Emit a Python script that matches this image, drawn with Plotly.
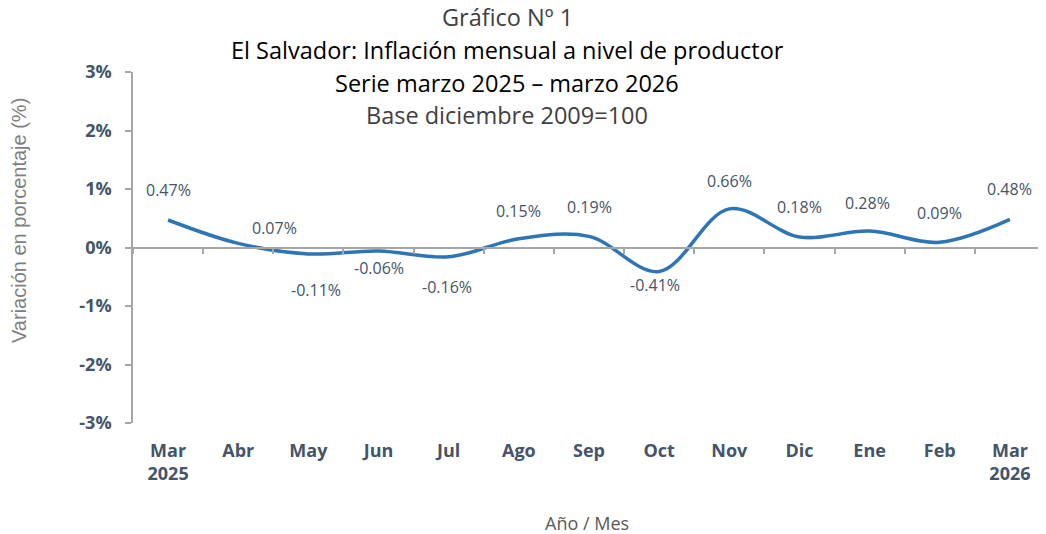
import plotly.graph_objects as go

months = ["Mar<br>2025", "Abr", "May", "Jun", "Jul", "Ago", "Sep", "Oct",
          "Nov", "Dic", "Ene", "Feb", "Mar<br>2026"]
inflation = [0.47, 0.07, -0.11, -0.06, -0.16, 0.15, 0.19, -0.41,
             0.66, 0.18, 0.28, 0.09, 0.48]
label_text = ["0.47%", "0.07%", "-0.11%", "-0.06%", "-0.16%", "0.15%", "0.19%",
              "-0.41%", "0.66%", "0.18%", "0.28%", "0.09%", "0.48%"]
# label offsets (pixels) relative to the point
label_dy = [30, 15, -36, -17, -30, 28, 29, -14, 28, 30, 28, 29, 30]
label_dx = [0, 36, 8, 0, -2, 0, 0, -4, 0, 0, -2, 0, 0]

y_ticks = [-3, -2, -1, 0, 1, 2, 3]
y_ticktext = ["-3%", "-2%", "-1%", "0%", "1%", "2%", "3%"]

FONT = "Open Sans"
SLATE = "#44546A"
AXIS = "#A6A6A6"

# page has an 8px body margin: figure occupies (8..1046, 8..534) of the window
OFF = 8
W, H = 1046 - OFF, 534 - OFF
# plot area in window pixels: x 133..1045, y 72..423
L, T = 133 - OFF, 72 - OFF
R = W - (1045 - OFF)
B = H - (423 - OFF)
pw, ph = W - L - R, H - T - B


def px_x(x):
    return (x - OFF - L) / pw


def px_y(y):
    return (H - B - (y - OFF)) / ph


fig = go.Figure()
fig.add_trace(go.Scatter(
    x=months, y=inflation, mode="lines",
    line=dict(color="#2E75B6", width=3.5, shape="spline", smoothing=1.0),
    hoverinfo="skip", showlegend=False, cliponaxis=False,
))
# invisible trace to register the zero-line axis
fig.add_trace(go.Scatter(
    x=months, y=inflation, mode="lines", xaxis="x2",
    line=dict(width=0), opacity=0, hoverinfo="skip", showlegend=False,
))

for m, v, t, dy, dx in zip(months, inflation, label_text, label_dy, label_dx):
    fig.add_annotation(x=m, y=v, xref="x", yref="y", text=t, showarrow=False,
                       yshift=dy, xshift=dx,
                       font=dict(family=FONT, size=16, color=SLATE))

title_lines = [
    ("Gráfico Nº 1", "#404040", 17),
    ("El Salvador: Inflación mensual a nivel de productor", "#000000", 50),
    ("Serie marzo 2025 – marzo 2026", "#000000", 83),
    ("Base diciembre 2009=100", "#404040", 115),
]
for text, col, ypx in title_lines:
    fig.add_annotation(x=px_x(507), y=px_y(ypx), xref="paper", yref="paper",
                       text=text, showarrow=False, xanchor="center",
                       yanchor="middle",
                       font=dict(family=FONT, size=23.5, color=col))

fig.add_annotation(x=px_x(19), y=px_y(221), xref="paper", yref="paper",
                   text="Variación en porcentaje (%)", textangle=-90,
                   showarrow=False, xanchor="center", yanchor="middle",
                   font=dict(family="Liberation Sans", size=20, color="#7F7F7F"))
fig.add_annotation(x=px_x(587), y=px_y(523), xref="paper",
                   yref="paper", text="Año / Mes", showarrow=False,
                   xanchor="center", yanchor="middle",
                   font=dict(family=FONT, size=18, color="#595959"))

fig.update_layout(
    width=W, height=H,
    margin=dict(l=L, r=R, t=T, b=B, pad=0, autoexpand=False),
    paper_bgcolor="white", plot_bgcolor="white",
    showlegend=False,
    xaxis=dict(
        type="category", categoryorder="array", categoryarray=months,
        range=[-0.5, len(months) - 0.5], automargin=False,
        showline=False, showgrid=False, zeroline=False, ticks="",
        tickfont=dict(family=FONT, size=18, color=SLATE, weight="bold"),
        ticklabelstandoff=15,
    ),
    xaxis2=dict(
        type="category", categoryorder="array", categoryarray=months,
        range=[-0.5, len(months) - 0.5], automargin=False,
        overlaying="x", anchor="free", position=0.5, side="bottom",
        showline=True, linecolor=AXIS, linewidth=1.5,
        ticks="outside", tickson="boundaries", ticklen=6, tickwidth=1.5,
        tickcolor=AXIS, showticklabels=False, showgrid=False, zeroline=False,
    ),
    yaxis=dict(
        range=[-3, 3], tickvals=y_ticks, ticktext=y_ticktext, automargin=False,
        showline=True, linecolor=AXIS, linewidth=1.5,
        ticks="outside", ticklen=6, tickwidth=1.5, tickcolor=AXIS,
        showgrid=False, zeroline=False,
        tickfont=dict(family=FONT, size=18, color=SLATE, weight="bold"),
        ticklabelstandoff=10,
    ),
)

fig.write_html("out.html")
